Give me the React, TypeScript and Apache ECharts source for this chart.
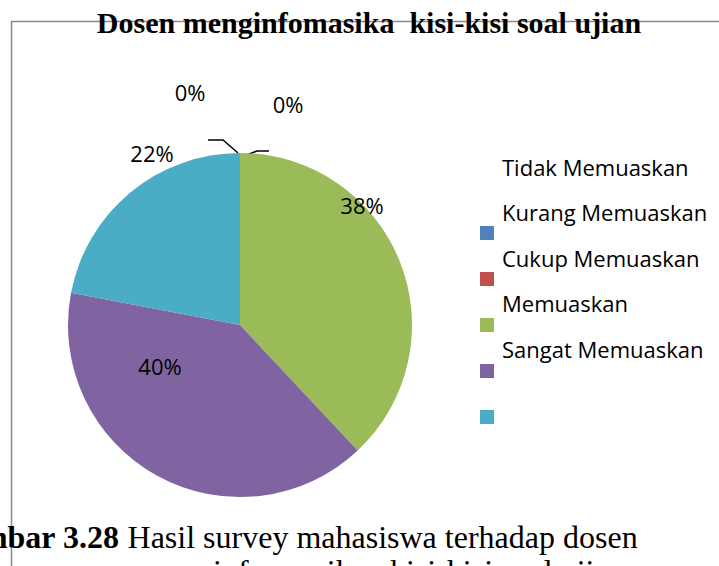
import React, { useEffect, useRef } from 'react';
import * as echarts from 'echarts';

// ---- data ----
const TITLE = 'Dosen menginfomasika  kisi-kisi soal ujian';
const CATEGORIES = ['Tidak Memuaskan', 'Kurang Memuaskan', 'Cukup Memuaskan', 'Memuaskan', 'Sangat Memuaskan'];
const VALUES = [0, 0, 38, 40, 22];
const COLORS = ['#4F81BD', '#C0504D', '#9BBB59', '#8064A2', '#4BACC6'];
const CAPTION_BOLD = 'Gambar 3.28';
const CAPTION_LINE1 = 'Hasil survey mahasiswa terhadap dosen';
const CAPTION_LINE2 = 'menginformasikan kisi-kisi soal ujian';

// ---- layout (label placement like the original "best fit") ----
const LABEL_POS: number[][] = [[190, 92], [288, 104], [362, 205], [160, 366], [152, 153]];
const LEADER_LINES: (number[][] | null)[] = [
  [[238, 153], [223, 140], [208, 140]],
  [[239, 158], [257, 151], [269, 151]],
  null,
  null,
  null,
];

export default function App() {
  const ref = useRef<HTMLDivElement>(null);
  useEffect(() => {
    if (!ref.current) return;
    const chart = echarts.init(ref.current, undefined, { renderer: 'svg' });
    const serif = '"Liberation Serif", "Times New Roman", serif';
    const sans = '"Open Sans", "Noto Sans", sans-serif';
    chart.setOption({
      animation: false,
      backgroundColor: '#ffffff',
      legend: [
        {
          orient: 'vertical',
          left: 480,
          top: 226,
          padding: 0,
          itemWidth: 14,
          itemHeight: 14,
          itemGap: 32,
          icon: 'rect',
          selectedMode: false,
          data: CATEGORIES,
          formatter: () => '',
          textStyle: { fontSize: 14, lineHeight: 14 },
        },
        {
          orient: 'vertical',
          left: 497,
          top: 156,
          padding: 0,
          itemWidth: 0,
          itemHeight: 22,
          itemGap: 23.4,
          icon: 'rect',
          selectedMode: false,
          data: CATEGORIES,
          itemStyle: { opacity: 0 },
          textStyle: { fontSize: 22, lineHeight: 22, color: '#000', fontFamily: sans },
        },
      ],
      series: [
        {
          type: 'pie',
          center: [240, 325],
          radius: 172,
          startAngle: 90,
          clockwise: true,
          avoidLabelOverlap: false,
          emphasis: { disabled: true },
          itemStyle: { borderWidth: 0 },
          label: {
            show: true,
            color: '#000',
            fontSize: 22,
            fontFamily: sans,
            formatter: (p: any) => Math.round(p.percent) + '%',
          },
          labelLine: { show: true, length: 10, length2: 10, lineStyle: { color: '#000', width: 1.5 } },
          labelLayout: (p: any) => {
            const pos = LABEL_POS[p.dataIndex];
            const line = LEADER_LINES[p.dataIndex];
            const o: any = { x: pos[0], y: pos[1], align: 'center', verticalAlign: 'middle' };
            if (line) o.labelLinePoints = line;
            return o;
          },
          data: CATEGORIES.map((name, i) => ({
            name,
            value: VALUES[i],
            itemStyle: { color: COLORS[i] },
            label: { position: VALUES[i] === 0 ? 'outside' : 'inside' },
            labelLine: { show: VALUES[i] === 0 },
          })),
        },
      ],
      graphic: [
        {
          type: 'polyline',
          silent: true,
          shape: { points: [[11.5, 566], [11.5, 21.5], [719, 21.5]] },
          style: { stroke: '#8a8a8a', lineWidth: 1.5, fill: null },
        },
        {
          type: 'text',
          x: 369,
          y: 22.5,
          style: {
            text: TITLE,
            fontSize: 30,
            fontWeight: 'bold',
            fontFamily: serif,
            fill: '#000',
            align: 'center',
            verticalAlign: 'middle',
          },
        },
        {
          type: 'text',
          x: -60,
          y: 537,
          style: {
            text: '{b|' + CAPTION_BOLD + '} ' + CAPTION_LINE1,
            fontSize: 32,
            fontFamily: serif,
            fill: '#000',
            align: 'left',
            verticalAlign: 'middle',
            rich: {
              b: { fontSize: 32, fontFamily: serif, fontWeight: 'bold', fill: '#000' },
            },
          },
        },
        {
          type: 'text',
          x: 142,
          y: 571,
          style: {
            text: CAPTION_LINE2,
            fontSize: 32,
            fontFamily: serif,
            fill: '#000',
            align: 'left',
            verticalAlign: 'middle',
          },
        },
      ],
    });
    return () => chart.dispose();
  }, []);
  return (
    <div
      ref={ref}
      style={{ position: 'absolute', left: 0, top: 0, width: 719, height: 566 }}
    />
  );
}
